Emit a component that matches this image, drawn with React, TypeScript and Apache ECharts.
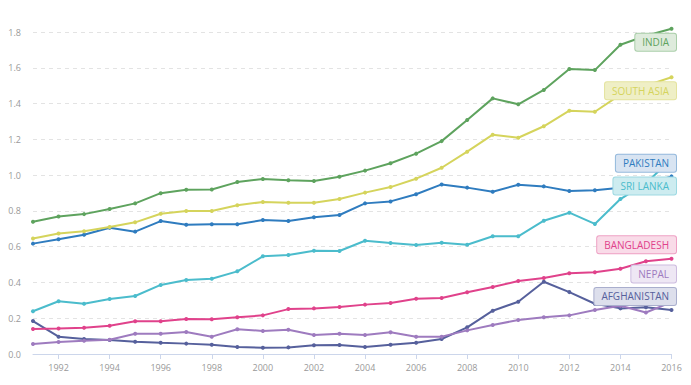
import React, { useEffect, useRef } from "react";
import * as echarts from "echarts";

const years = [
  "1991", "1992", "1993", "1994", "1995", "1996", "1997", "1998", "1999", "2000",
  "2001", "2002", "2003", "2004", "2005", "2006", "2007", "2008", "2009", "2010",
  "2011", "2012", "2013", "2014", "2015", "2016",
];

const india = [0.739, 0.769, 0.782, 0.81, 0.842, 0.899, 0.918, 0.92, 0.961, 0.978, 0.971, 0.967, 0.991, 1.025, 1.066, 1.12, 1.19, 1.308, 1.429, 1.396, 1.476, 1.593, 1.587, 1.729, 1.779, 1.818];
const southAsia = [0.646, 0.674, 0.686, 0.71, 0.736, 0.784, 0.799, 0.799, 0.831, 0.85, 0.846, 0.846, 0.866, 0.902, 0.933, 0.98, 1.041, 1.131, 1.226, 1.209, 1.273, 1.36, 1.354, 1.45, 1.5, 1.547];
const pakistan = [0.617, 0.641, 0.667, 0.706, 0.684, 0.743, 0.723, 0.725, 0.725, 0.749, 0.743, 0.764, 0.777, 0.842, 0.853, 0.893, 0.948, 0.93, 0.907, 0.946, 0.937, 0.911, 0.915, 0.93, 0.95, 0.993];
const sriLanka = [0.239, 0.295, 0.281, 0.307, 0.324, 0.386, 0.414, 0.421, 0.462, 0.546, 0.553, 0.577, 0.576, 0.633, 0.62, 0.609, 0.622, 0.611, 0.658, 0.658, 0.745, 0.79, 0.727, 0.866, 0.955, 1.09];
const bangladesh = [0.14, 0.143, 0.147, 0.158, 0.183, 0.183, 0.196, 0.194, 0.205, 0.216, 0.251, 0.255, 0.263, 0.276, 0.285, 0.309, 0.313, 0.345, 0.374, 0.408, 0.425, 0.451, 0.457, 0.477, 0.518, 0.533];
const nepal = [0.056, 0.067, 0.074, 0.08, 0.113, 0.113, 0.123, 0.097, 0.138, 0.129, 0.136, 0.106, 0.113, 0.106, 0.121, 0.097, 0.097, 0.132, 0.162, 0.19, 0.205, 0.216, 0.246, 0.27, 0.232, 0.29];
const afghanistan = [0.184, 0.097, 0.084, 0.078, 0.069, 0.063, 0.058, 0.052, 0.039, 0.035, 0.037, 0.049, 0.05, 0.039, 0.052, 0.063, 0.084, 0.149, 0.242, 0.292, 0.404, 0.346, 0.281, 0.255, 0.261, 0.246];

const yTicks = { min: 0, max: 1.8, interval: 0.2 };

type S = { name: string; data: number[]; color: string; bg: string; border: string; dy: number };

const seriesDefs: S[] = [
  { name: "AFGHANISTAN", data: afghanistan, color: "#56609c", bg: "#dddfec", border: "#a9aecd", dy: -13.5 },
  { name: "NEPAL", data: nepal, color: "#9e7bbf", bg: "#eee7f4", border: "#cdbcdf", dy: -28 },
  { name: "BANGLADESH", data: bangladesh, color: "#e0428b", bg: "#f9dbe8", border: "#eea0c4", dy: -14 },
  { name: "SRI LANKA", data: sriLanka, color: "#4bbccc", bg: "#cdecf0", border: "#9dd9e2", dy: 27 },
  { name: "PAKISTAN", data: pakistan, color: "#2f7cbf", bg: "#d8e4f2", border: "#94b9dc", dy: -13 },
  { name: "SOUTH ASIA", data: southAsia, color: "#d5d45c", bg: "#efefc6", border: "#e4e39e", dy: 13.5 },
  { name: "INDIA", data: india, color: "#5ea35e", bg: "#deebdc", border: "#a9cea9", dy: 13.5 },
];

const FONT = "Open Sans";
const GRID = { left: 33, right: 19.5, top: 32, bottom: 31 };

export default function App() {
  const ref = useRef<HTMLDivElement>(null);
  useEffect(() => {
    if (!ref.current) return;
    const chart = echarts.init(ref.current, undefined, { renderer: "svg" });
    chart.setOption({
      animation: false,
      grid: GRID,
      xAxis: {
        type: "category",
        data: years,
        boundaryGap: false,
        axisLine: { lineStyle: { color: "#ccd6eb", width: 1 } },
        axisTick: {
          show: true,
          interval: (i: number) => Number(years[i]) % 2 === 0,
          length: 5,
          lineStyle: { color: "#ccd6eb" },
        },
        axisLabel: {
          interval: (i: number) => Number(years[i]) % 2 === 0,
          color: "#999",
          fontSize: 9,
          fontFamily: FONT,
          margin: 9,
        },
        splitLine: { show: false },
      },
      yAxis: {
        type: "value",
        min: yTicks.min,
        max: yTicks.max,
        interval: yTicks.interval,
        axisLine: { show: false },
        axisTick: { show: false },
        axisLabel: {
          color: "#999",
          fontSize: 9,
          fontFamily: FONT,
          margin: 12,
          formatter: (v: number) => v.toFixed(1),
        },
        splitLine: { lineStyle: { color: "#e3e3e3", type: [4, 4] } },
      },
      series: seriesDefs.map((s, k) => ({
        name: s.name,
        type: "line",
        data: s.data,
        clip: false,
        z: 2 + k * 0.01,
        symbol: "circle",
        symbolSize: 4,
        showSymbol: true,
        lineStyle: { color: s.color, width: 2 },
        itemStyle: { color: s.color },
        emphasis: { disabled: true },
      })),
    });
    const graphics = seriesDefs.map((s) => {
      const li = s.data.length - 1;
      const p = chart.convertToPixel({ gridIndex: 0 }, [li, s.data[li]]) as number[];
      return {
        type: "text",
        z: 100,
        zlevel: 1,
        x: p[0] + 4.5,
        y: p[1] + s.dy,
        style: {
          text: s.name,
          fill: s.color,
          font: `10px "${FONT}"`,
          align: "right",
          verticalAlign: "middle",
          backgroundColor: s.bg,
          borderColor: s.border,
          borderWidth: 1,
          borderRadius: 2,
          padding: [4, 7, 3, 7],
        },
      };
    });
    chart.setOption({ graphic: graphics });
    return () => chart.dispose();
  }, []);
  return <div ref={ref} style={{ width: 691, height: 385, position: "absolute", left: 0, top: 0 }} />;
}
